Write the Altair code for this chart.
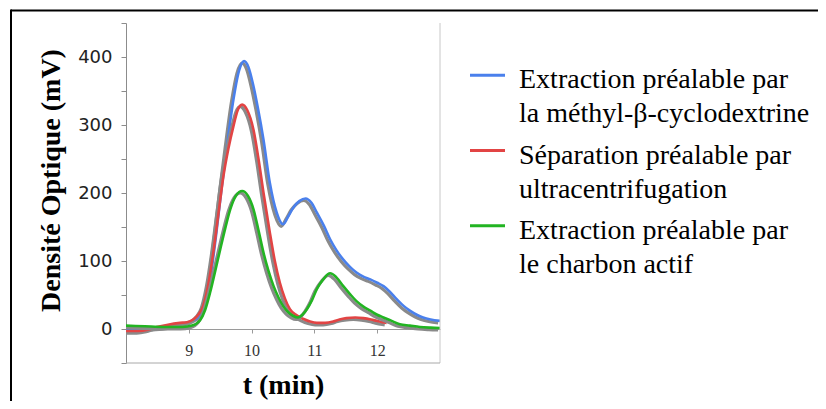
import altair as alt
import pandas as pd

# ---------------- data ----------------
series_names = [
    "Extraction préalable par la méthyl-β-cyclodextrine",
    "Séparation préalable par ultracentrifugation",
    "Extraction préalable par le charbon actif",
]
legend_line1 = ["Extraction préalable par", "Séparation préalable par", "Extraction préalable par"]
legend_line2 = ["la méthyl-β-cyclodextrine", "ultracentrifugation", "le charbon actif"]
colors = ["#4a80ec", "#e24444", "#22b422"]

t_blue = [8.0, 8.5, 8.9, 9.1, 9.2, 9.28, 9.36, 9.44, 9.52, 9.6, 9.71, 9.8, 9.88, 9.95,
          10.02, 10.1, 10.19, 10.29, 10.4, 10.5, 10.58, 10.66, 10.76, 10.86, 10.95, 11.04,
          11.15, 11.25, 11.35, 11.46, 11.57, 11.67, 11.78, 11.89, 12.0, 12.1, 12.2, 12.31,
          12.42, 12.52, 12.63, 12.73, 12.85, 13.0]
v_blue = [0, 2, 8, 14, 22, 39, 85, 142, 205, 263, 337, 380, 394, 385,
          361, 325, 278, 215, 171, 154, 165, 178, 188, 192, 186, 171,
          152, 132, 116, 102, 91, 83, 77, 73, 68, 63, 55, 44,
          34, 27, 21, 17, 14, 12]

t_red = [8.0, 8.2, 8.35, 8.49, 8.65, 8.86, 8.97, 9.07, 9.15, 9.23, 9.31, 9.39, 9.47, 9.55,
         9.63, 9.71, 9.78, 9.85, 9.93, 10.03, 10.11, 10.19, 10.29, 10.37, 10.45, 10.53,
         10.61, 10.72, 10.82, 10.93, 11.04, 11.17, 11.3, 11.4, 11.51, 11.65, 11.78, 11.9,
         11.99, 12.08, 12.15]
v_red = [-3, -3, -1, 3, 6, 9, 10, 14, 21, 34, 65, 112, 168, 224,
         265, 298, 322, 330, 322, 293, 250, 200, 142, 100, 68, 45,
         29, 20, 15, 11, 9, 9, 11, 14, 16, 17, 16, 14,
         12, 10, 9]

t_green = [8.0, 8.3, 8.6, 8.9, 9.05, 9.18, 9.26, 9.34, 9.42, 9.5, 9.58, 9.66, 9.75, 9.85,
           9.94, 10.03, 10.11, 10.19, 10.27, 10.35, 10.43, 10.5, 10.58, 10.66, 10.74, 10.81,
           10.88, 10.96, 11.04, 11.14, 11.25, 11.35, 11.46, 11.57, 11.67, 11.78, 11.89, 12.0,
           12.1, 12.23, 12.36, 12.52, 12.68, 12.85, 13.0]
v_green = [5, 4, 3, 3, 5, 13, 28, 54, 85, 117, 148, 176, 196, 203,
           196, 176, 145, 112, 85, 63, 46, 34, 25, 19.5, 17, 21,
           29, 42, 59, 73, 82, 76, 63, 51, 41, 33, 27, 21,
           17, 12, 7, 5, 3, 2, 1.5]

x_ticks = [9, 10, 11, 12]
y_ticks = [-50, 0, 50, 100, 150, 200, 250, 300, 350, 400, 450]

# ---------------- build ----------------
all_t = [t_blue, t_red, t_green]
all_v = [v_blue, v_red, v_green]

x_scale = alt.Scale(domain=[8, 13], nice=False, zero=False)
y_scale = alt.Scale(domain=[-50, 450], nice=False, zero=False)

x_axis = alt.Axis(
    values=x_ticks, offset=-34, grid=False,
    domainColor="#9a9a9a", tickColor="#9a9a9a", tickSize=4,
    labelFont="Liberation Serif", labelFontSize=16, labelColor="#333333", labelPadding=9,
    title="t (min)", titleFont="Liberation Serif", titleFontSize=28, titleFontWeight="bold",
    titleColor="#000000", titleY=64, titleBaseline="alphabetic",
)
y_axis = alt.Axis(
    values=y_ticks, grid=False,
    labelExpr="(datum.value % 100 == 0 && datum.value >= 0 && datum.value <= 400) ? datum.label : ''",
    domainColor="#8c8c8c", tickColor="#8c8c8c", tickSize=5,
    labelFont="DejaVu Sans", labelFontSize=18, labelColor="#222222", labelPadding=9,
    title="Densité Optique (mV)", titleFont="Liberation Serif", titleFontSize=28,
    titleFontWeight="bold", titleColor="#000000", titleAngle=270,
    titleX=-75, titleY=157, titleAlign="center", titleBaseline="middle",
)

layers = []
for i, (name, ts, vs) in enumerate(zip(series_names, all_t, all_v)):
    d = pd.DataFrame({"t": ts, "v": vs, "serie": name})
    shadow = alt.Chart(d).transform_calculate(
        ts="datum.t - 0.03", vs="datum.v - 3"
    ).mark_line(color="#8a8a8a", strokeWidth=3.2, interpolate="monotone", clip=True).encode(
        x=alt.X("ts:Q", scale=x_scale, axis=x_axis),
        y=alt.Y("vs:Q", scale=y_scale, axis=y_axis),
    )
    line = alt.Chart(d).mark_line(color=colors[i], strokeWidth=2.6, interpolate="monotone", clip=True).encode(
        x=alt.X("t:Q", scale=x_scale, axis=x_axis),
        y=alt.Y("v:Q", scale=y_scale, axis=y_axis),
    )
    layers += [shadow, line]

one = alt.Data(values=[{"a": 1}])
W, H = 314, 340

# plot frame (right and bottom)
right_line = alt.Chart(one).mark_rule(color="#c8c8c8", strokeWidth=1).encode(
    x=alt.value(W), y=alt.value(0), y2=alt.value(H))
bottom_line = alt.Chart(one).mark_rule(color="#a8a8a8", strokeWidth=1).encode(
    x=alt.value(0), x2=alt.value(W), y=alt.value(H))

# outer black border (top and left)
top_border = alt.Chart(one).mark_rule(color="#000000", strokeWidth=2).encode(
    x=alt.value(-115), x2=alt.value(692), y=alt.value(-12.5))
left_border = alt.Chart(one).mark_rule(color="#000000", strokeWidth=2).encode(
    x=alt.value(-115), y=alt.value(-13.5), y2=alt.value(378))

# legend
leg = pd.DataFrame({"serie": series_names, "line1": legend_line1, "line2": legend_line2,
                    "idx": list(range(len(series_names)))})
color_scale = alt.Scale(domain=series_names, range=colors)
leg_sym = alt.Chart(leg).transform_calculate(
    ly="52.3 + datum.idx * 75.2"
).mark_rule(strokeWidth=3).encode(
    x=alt.value(344), x2=alt.value(379),
    y=alt.Y("ly:Q", scale=None, axis=None),
    color=alt.Color("serie:N", scale=color_scale, legend=None),
)
leg_txt = alt.Chart(leg).transform_fold(
    ["line1", "line2"], as_=["which", "label"]
).transform_calculate(
    ty="52.3 + datum.idx * 75.2 + 13 + (datum.which == 'line2' ? 34 : 0)"
).mark_text(align="left", baseline="alphabetic", font="Liberation Serif", fontSize=28,
            color="#000000").encode(
    x=alt.value(393),
    y=alt.Y("ty:Q", scale=None, axis=None),
    text="label:N",
)

chart = alt.layer(
    *layers, right_line, bottom_line, top_border, left_border, leg_sym, leg_txt
).properties(
    width=W, height=H,
    autosize=alt.AutoSizeParams(type="none"),
    padding={"left": 118, "top": 15, "right": 378, "bottom": 38},
).configure_view(stroke="transparent")

chart.save("out.html", embed_options={"renderer": "svg", "actions": False})
